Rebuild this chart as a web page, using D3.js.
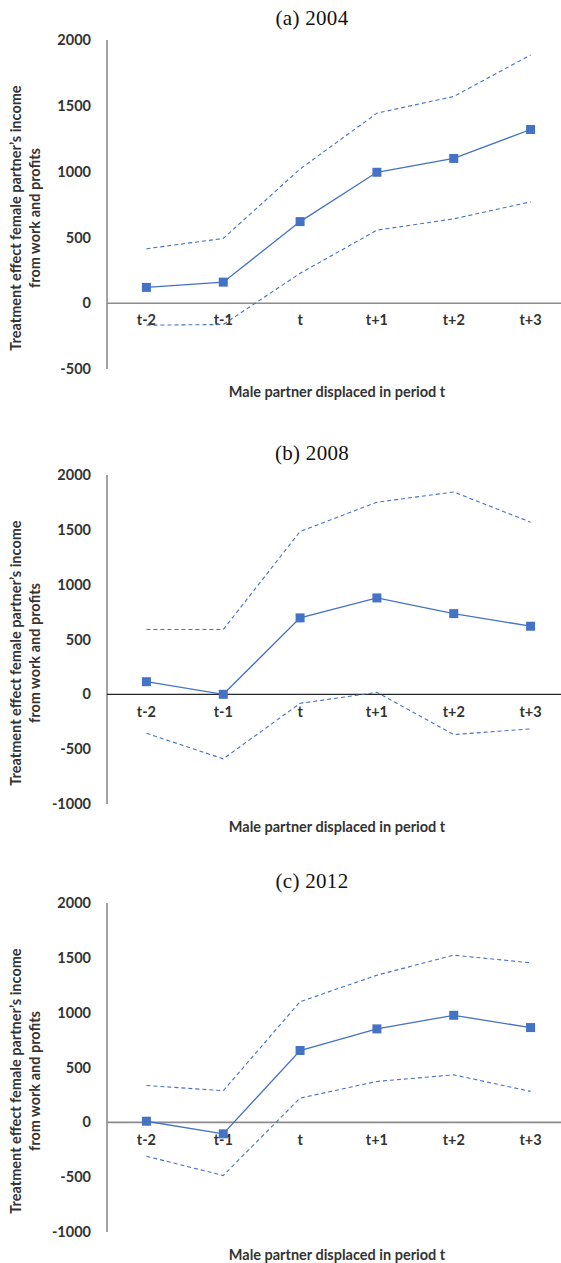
<!DOCTYPE html>
<html>
<head>
<meta charset="utf-8">
<script src="https://cdn.jsdelivr.net/npm/d3@7"></script>
<style>
  html, body { margin: 0; padding: 0; background: #fff; }
  svg { display: block; }
</style>
</head>
<body>
<div id="chart"></div>
<script>
// Event-study estimates: effect on female partner's income from work and profits
const periods = ["t-2", "t-1", "t", "t+1", "t+2", "t+3"];

const panelTitles = ["(a) 2004", "(b) 2008", "(c) 2012"];

const est2004   = [120, 160, 620, 995, 1100, 1320];
const upper2004 = [414, 492, 1020, 1444, 1571, 1886];
const lower2004 = [-167, -162, 227, 555, 641, 770];

const est2008   = [115, 0, 697, 879, 736, 621];
const upper2008 = [591, 591, 1485, 1752, 1845, 1570];
const lower2008 = [-355, -588, -82, 18, -367, -315];

const est2012   = [10, -105, 655, 852, 976, 864];
const upper2012 = [336, 288, 1100, 1342, 1524, 1455];
const lower2012 = [-309, -485, 221, 373, 433, 282];

const yTicks2004 = [2000, 1500, 1000, 500, 0, -500];
const yTicks2008 = [2000, 1500, 1000, 500, 0, -500, -1000];
const yTicks2012 = [2000, 1500, 1000, 500, 0, -500, -1000];

const yAxisTitle = ["Treatment effect female partner\u2019s income", "from work and profits"];
const xAxisTitle = "Male partner displaced in period t";

const panels = [
  { title: panelTitles[0], est: est2004, upper: upper2004, lower: lower2004, ticks: yTicks2004, domain: [-500, 2000], top: 40,  zeroColor: "#8c8c8c", zeroWidth: 1.6 },
  { title: panelTitles[1], est: est2008, upper: upper2008, lower: lower2008, ticks: yTicks2008, domain: [-1000, 2000], top: 475, zeroColor: "#262626", zeroWidth: 1.1 },
  { title: panelTitles[2], est: est2012, upper: upper2012, lower: lower2012, ticks: yTicks2012, domain: [-1000, 2000], top: 903, zeroColor: "#8c8c8c", zeroWidth: 1.6 }
];

const W = 561, H = 1263;
const plotH = 329;
const axisX = 107;
const blue = "#4472C4";
const textCol = "#333333";
const labelFont = "Lato, 'Open Sans', sans-serif";
const labelSize = "14.5px";

const svg = d3.select("#chart").append("svg")
  .attr("width", W).attr("height", H);

const x = d3.scaleBand().domain(periods).range([108, 569]).padding(0);
const cx = d => x(d) + x.bandwidth() / 2;

const styleLabel = sel => sel
  .style("font-family", labelFont).style("font-size", labelSize).style("font-weight", "bold")
  .attr("fill", textCol);

panels.forEach(p => {
  const y = d3.scaleLinear().domain(p.domain).range([p.top + plotH, p.top]);
  const g = svg.append("g");

  // panel title
  g.append("text")
    .attr("x", 312).attr("y", p.top - 22)
    .attr("text-anchor", "middle").attr("dominant-baseline", "central")
    .style("font-family", "'Liberation Serif', 'Times New Roman', serif")
    .style("font-size", "21px").style("letter-spacing", "0.3px")
    .attr("fill", "#111")
    .text(p.title);

  // y axis: labels only, plus a plain vertical line
  const yAxis = d3.axisLeft(y).tickValues(p.ticks).tickSize(0).tickPadding(0).tickFormat(d => String(d));
  const ya = g.append("g").attr("transform", `translate(91,0)`).call(yAxis);
  ya.select(".domain").remove();
  styleLabel(ya.selectAll("text"));

  g.append("line")
    .attr("x1", axisX).attr("x2", axisX)
    .attr("y1", y(p.domain[1])).attr("y2", y(p.domain[0]))
    .attr("stroke", "#8c8c8c").attr("stroke-width", 1.6);

  // zero line
  g.append("line")
    .attr("x1", axisX).attr("x2", W)
    .attr("y1", y(0)).attr("y2", y(0))
    .attr("stroke", p.zeroColor).attr("stroke-width", p.zeroWidth);

  // category labels under the zero line
  const xAxis = d3.axisBottom(x).tickSize(0).tickPadding(0);
  const xa = g.append("g").attr("transform", `translate(0,${y(0) + 12})`).call(xAxis);
  xa.select(".domain").remove();
  styleLabel(xa.selectAll("text"));

  // confidence bounds
  const line = d3.line().x((d, i) => cx(periods[i])).y(d => y(d));
  [p.upper, p.lower].forEach(arr => {
    g.append("path").datum(arr)
      .attr("d", line).attr("fill", "none")
      .attr("stroke", blue).attr("stroke-width", 1.1)
      .attr("stroke-dasharray", "4,3");
  });

  // point estimates
  g.append("path").datum(p.est)
    .attr("d", line).attr("fill", "none")
    .attr("stroke", blue).attr("stroke-width", 1.3);

  g.selectAll("rect.mk").data(p.est).join("rect")
    .attr("class", "mk")
    .attr("x", (d, i) => cx(periods[i]) - 4.5)
    .attr("y", d => y(d) - 4.5)
    .attr("width", 9).attr("height", 9)
    .attr("fill", blue);

  // axis titles
  styleLabel(g.append("text")
    .attr("x", 337).attr("y", p.top + plotH + 22)
    .attr("text-anchor", "middle").attr("dominant-baseline", "central"))
    .text(xAxisTitle);

  const ycy = p.top + plotH / 2 + 13.5;
  const yt = styleLabel(g.append("text")
    .attr("transform", `translate(25,${ycy}) rotate(-90)`)
    .attr("text-anchor", "middle"));
  yt.append("tspan").attr("x", 0).attr("y", -9.5).attr("dominant-baseline", "central").text(yAxisTitle[0]);
  yt.append("tspan").attr("x", 0).attr("y", 9.5).attr("dominant-baseline", "central").text(yAxisTitle[1]);
});
</script>
</body>
</html>
